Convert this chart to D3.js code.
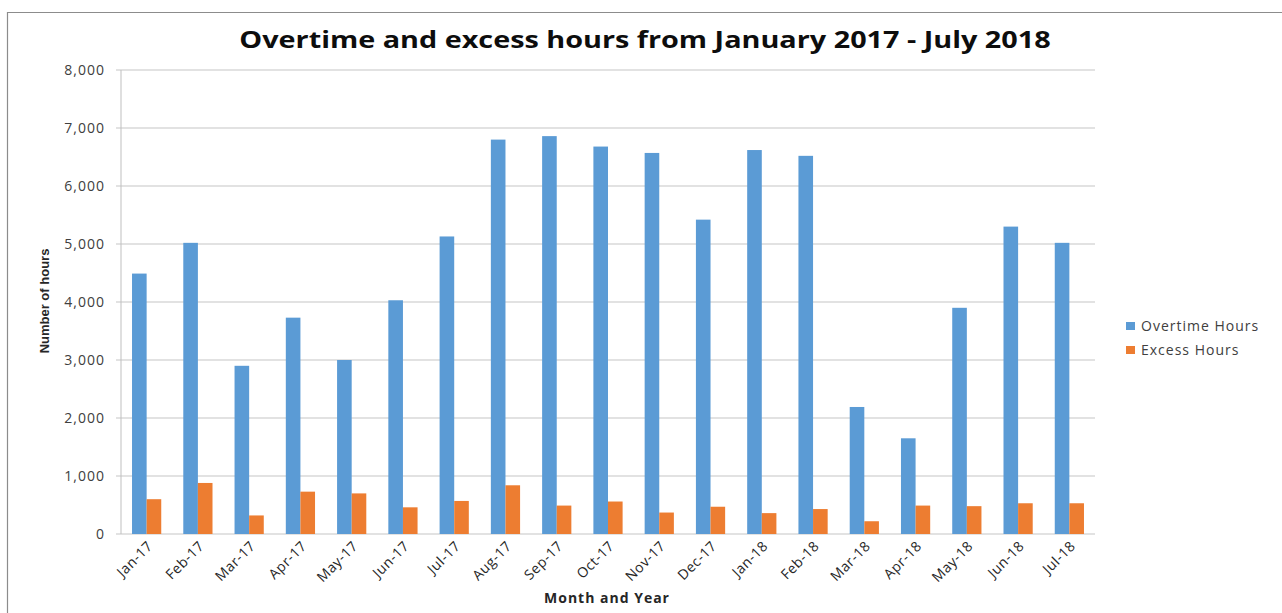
<!DOCTYPE html>
<html>
<head>
<meta charset="utf-8">
<script src="https://cdn.jsdelivr.net/npm/d3@7"></script>
<style>
  body { margin: 0; background: #fff; }
  svg { display: block; font-family: "Open Sans", sans-serif; }
</style>
</head>
<body>
<svg id="chart" width="1282" height="613"></svg>
<script>
const months = ["Jan-17","Feb-17","Mar-17","Apr-17","May-17","Jun-17","Jul-17","Aug-17","Sep-17","Oct-17",
  "Nov-17","Dec-17","Jan-18","Feb-18","Mar-18","Apr-18","May-18","Jun-18","Jul-18"];
const overtimeHours = [4490,5020,2900,3730,3000,4030,5130,6800,6860,6680,6570,5420,6620,6520,2190,1650,3900,5300,5020];
const excessHours = [600,880,320,730,700,460,570,840,490,560,370,470,360,430,220,490,480,530,530];
const seriesNames = ["Overtime Hours","Excess Hours"];
const yTicks = [0,1000,2000,3000,4000,5000,6000,7000,8000];

const colors = {"Overtime Hours":"#5B9BD5", "Excess Hours":"#ED7D31"};

const svg = d3.select("#chart");

// outer frame (only top and left edges visible)
svg.append("line").attr("x1",7).attr("y1",12.5).attr("x2",1282).attr("y2",12.5).attr("stroke","#8c8c8c").attr("stroke-width",1.2);
svg.append("line").attr("x1",7.5).attr("y1",12).attr("x2",7.5).attr("y2",613).attr("stroke","#8c8c8c").attr("stroke-width",1.2);

const plot = {left:121, right:1095, top:70, bottom:534};

const x = d3.scaleBand().domain(months).range([plot.left, plot.right]).paddingInner(0.43).paddingOuter(0.215);
const xs = d3.scaleBand().domain(seriesNames).range([0, x.bandwidth()]);
const y = d3.scaleLinear().domain([0,8000]).range([plot.bottom, plot.top]);

// gridlines
svg.append("g").selectAll("line").data(yTicks).enter().append("line")
  .attr("x1", plot.left - 5).attr("x2", plot.right)
  .attr("y1", d => y(d)).attr("y2", d => y(d))
  .attr("stroke", "#d9d9d9").attr("stroke-width", 1.5);

// y axis line
svg.append("line").attr("x1", plot.left).attr("x2", plot.left).attr("y1", plot.top).attr("y2", plot.bottom)
  .attr("stroke", "#bfbfbf").attr("stroke-width", 1);

// y labels
const yAxis = d3.axisLeft(y).tickValues(yTicks).tickFormat(d3.format(",")).tickSize(0).tickPadding(16);
const gy = svg.append("g").attr("transform", `translate(${plot.left},0)`).call(yAxis);
gy.select(".domain").remove();
gy.selectAll("text").attr("fill", "#404040").style("font-size", "14px").style("letter-spacing", "1px")
  .style("font-family", "Open Sans");

// bars
const data = months.map((m, i) => ({month: m, values: [
  {name: "Overtime Hours", value: overtimeHours[i]},
  {name: "Excess Hours", value: excessHours[i]}
]}));

svg.append("g").selectAll("g").data(data).enter().append("g")
  .attr("transform", d => `translate(${x(d.month)},0)`)
  .selectAll("rect").data(d => d.values).enter().append("rect")
  .attr("x", d => xs(d.name))
  .attr("width", xs.bandwidth())
  .attr("y", d => y(d.value))
  .attr("height", d => y(0) - y(d.value))
  .attr("fill", d => colors[d.name]);

// x labels
const xAxis = d3.axisBottom(x).tickSize(0).tickPadding(0);
const gx = svg.append("g").attr("transform", `translate(0,${plot.bottom})`).call(xAxis);
gx.select(".domain").remove();
gx.selectAll("text")
  .attr("fill", "#262626")
  .style("font-size", "14px")
  .style("letter-spacing", "0.5px")
  .style("font-family", "Open Sans")
  .attr("text-anchor", "end")
  .attr("dy", null)
  .attr("y", 0)
  .attr("transform", "translate(7,13) rotate(-45)");

// title (source image is stretched horizontally)
svg.append("text").attr("transform", "translate(645,48) scale(1.2,1)").attr("text-anchor", "middle")
  .style("font-size", "24px").style("font-weight", "bold").attr("fill", "#0d0d0d")
  .text("Overtime and excess hours from January 2017 - July 2018");

// axis titles
svg.append("text").attr("x", 607).attr("y", 603).attr("text-anchor", "middle")
  .style("font-size", "14px").style("font-weight", "bold").style("letter-spacing", "1px").attr("fill", "#262626")
  .text("Month and Year");
svg.append("text").attr("transform", "translate(49,301) rotate(-90)").attr("text-anchor", "middle")
  .style("font-size", "13px").style("font-weight", "bold").style("font-family", "'Liberation Sans Narrow', 'Liberation Sans', sans-serif")
  .attr("fill", "#262626")
  .text("Number of hours");

// legend
const legend = svg.append("g").selectAll("g").data(seriesNames).enter().append("g")
  .attr("transform", (d, i) => `translate(1126,${326 + i * 24})`);
legend.append("rect").attr("x", 0).attr("y", -4).attr("width", 9).attr("height", 8).attr("fill", d => colors[d]);
legend.append("text").attr("x", 15).attr("y", 0).attr("dy", "0.35em")
  .style("font-size", "14px").style("letter-spacing", "1px").attr("fill", "#404040").text(d => d);
</script>
</body>
</html>
